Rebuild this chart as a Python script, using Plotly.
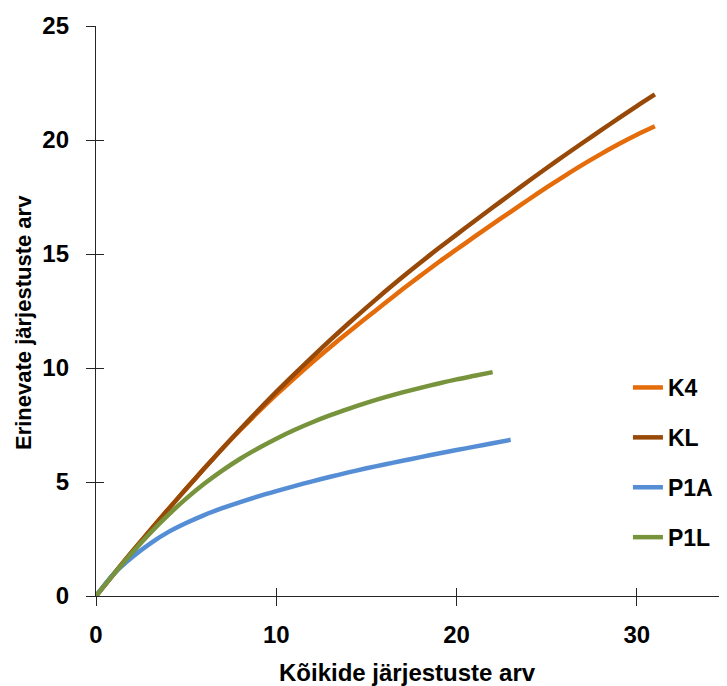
import plotly.graph_objects as go

# ---- data ----
x_K4 = list(range(0, 32))
y_K4 = [0, 0.98, 1.94, 2.88, 3.8, 4.7, 5.59, 6.46, 7.28, 8.07, 8.83, 9.55, 10.25, 10.92,
        11.57, 12.2, 12.83, 13.45, 14.05, 14.64, 15.2, 15.76, 16.31, 16.85, 17.39, 17.92,
        18.43, 18.92, 19.38, 19.82, 20.23, 20.6]

x_KL = list(range(0, 32))
y_KL = [0, 0.98, 1.94, 2.88, 3.8, 4.7, 5.59, 6.46, 7.31, 8.14, 8.95, 9.73, 10.49, 11.23,
        11.95, 12.65, 13.33, 13.99, 14.63, 15.25, 15.85, 16.45, 17.04, 17.62, 18.2, 18.77,
        19.33, 19.88, 20.42, 20.96, 21.49, 22.0]

x_P1A = list(range(0, 24))
y_P1A = [0, 0.98, 1.7, 2.3, 2.8, 3.2, 3.55, 3.85, 4.12, 4.37, 4.6, 4.82, 5.03, 5.23, 5.42,
         5.6, 5.77, 5.93, 6.09, 6.25, 6.4, 6.55, 6.7, 6.85]

x_P1L = list(range(0, 23))
y_P1L = [0, 0.97, 1.9, 2.76, 3.55, 4.27, 4.92, 5.5, 6.02, 6.48, 6.9, 7.28, 7.62, 7.93,
         8.21, 8.47, 8.71, 8.93, 9.13, 9.32, 9.5, 9.66, 9.82]

series_names = ["K4", "KL", "P1A", "P1L"]
series_colors = ["#E46C0A", "#984807", "#558ED5", "#77933C"]
series_x = [x_K4, x_KL, x_P1A, x_P1L]
series_y = [y_K4, y_KL, y_P1A, y_P1L]

x_ticks = [0, 10, 20, 30]
y_ticks = [0, 5, 10, 15, 20, 25]
x_title = "Kõikide järjestuste arv"
y_title = "Erinevate järjestuste arv"

FONT = "Liberation Sans"
AXIS_COLOR = "#262626"

# page body has an 8px margin; figure is sized so that the plot lands where the reference has it
W, H = 719, 678
L, R, T, B = 88, 0, 18, 90
PW, PH = W - L - R, H - T - B

fig = go.Figure()
for name, col, xs, ys in zip(series_names, series_colors, series_x, series_y):
    fig.add_trace(go.Scatter(
        x=xs, y=ys, mode="lines", name=name,
        line=dict(color=col, width=4.5, shape="spline", smoothing=0.8),
        legendgroup=name,
    ))

# invisible trace for the overlay axes (inside half of the crossing ticks)
fig.add_trace(go.Scatter(x=[0], y=[0], xaxis="x2", yaxis="y2", mode="markers",
                         marker=dict(opacity=0), showlegend=False, hoverinfo="skip"))

tick_font = dict(family=FONT, size=24, color="black", weight="bold")

fig.update_layout(
    width=W, height=H,
    margin=dict(l=L, r=R, t=T, b=B, autoexpand=False),
    paper_bgcolor="white", plot_bgcolor="white",
    font=dict(family=FONT, color="black"),
    showlegend=True,
    legend=dict(
        x=0.843, y=0.4035, xanchor="left", yanchor="top",
        font=dict(family=FONT, size=23, color="black", weight="bold"),
        traceorder="grouped", tracegroupgap=17,
        bgcolor="rgba(0,0,0,0)", itemwidth=30,
    ),
    xaxis=dict(
        range=[0, 35], tickvals=x_ticks, ticks="outside", ticklen=9, tickwidth=1.3,
        tickcolor=AXIS_COLOR, showline=True, linecolor=AXIS_COLOR, linewidth=1.3,
        showgrid=False, zeroline=False, tickfont=tick_font, ticklabelstandoff=8,
    ),
    yaxis=dict(
        range=[0, 25], tickvals=y_ticks, ticks="outside", ticklen=9, tickwidth=1.3,
        tickcolor=AXIS_COLOR, showline=True, linecolor=AXIS_COLOR, linewidth=1.3,
        showgrid=False, zeroline=False, tickfont=tick_font, ticklabelstandoff=12,
    ),
    xaxis2=dict(
        range=[0, 35], tickvals=x_ticks, ticks="inside", ticklen=8, tickwidth=1.3,
        tickcolor=AXIS_COLOR, overlaying="x", anchor="y", side="bottom",
        showline=False, showgrid=False, zeroline=False, showticklabels=False,
    ),
    yaxis2=dict(
        range=[0, 25], tickvals=y_ticks, ticks="inside", ticklen=8, tickwidth=1.3,
        tickcolor=AXIS_COLOR, overlaying="y", anchor="x", side="left",
        showline=False, showgrid=False, zeroline=False, showticklabels=False,
    ),
    annotations=[
        dict(text=x_title, xref="paper", yref="paper", x=(407 - 8 - L) / PW,
             y=-(672 - 8 - (T + PH)) / PH,
             xanchor="center", yanchor="middle", showarrow=False,
             font=dict(family=FONT, size=24, color="black", weight="bold")),
        dict(text=y_title, xref="paper", yref="paper", x=-(L - (23 - 8)) / PW,
             y=(T + PH - (323 - 8)) / PH,
             xanchor="center", yanchor="middle", showarrow=False, textangle=-90,
             font=dict(family=FONT, size=22, color="black", weight="bold")),
    ],
)

fig.write_html("out.html")
